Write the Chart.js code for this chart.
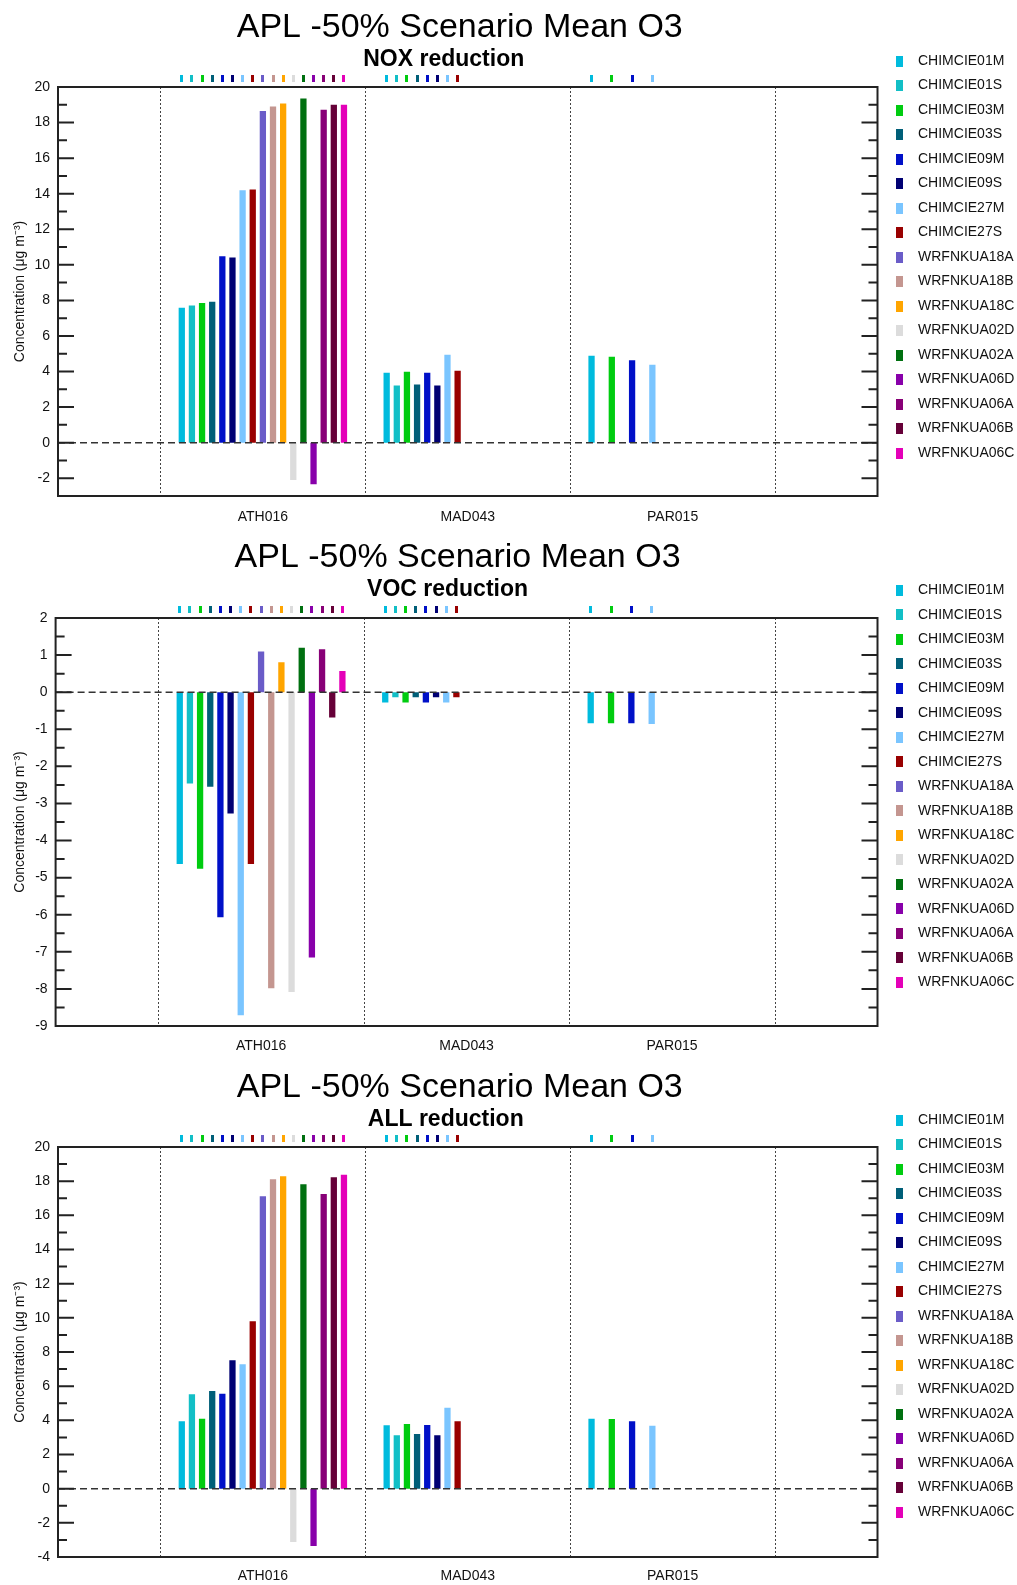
<!DOCTYPE html>
<html>
<head>
<meta charset="utf-8">
<title>APL -50% Scenario Mean O3</title>
<script src="https://cdn.jsdelivr.net/npm/chart.js@4.4.1/dist/chart.umd.min.js"></script>
<style>
  body { margin: 0; background: #fff; }
  canvas { position: absolute; left: 0; }
</style>
</head>
<body>
<canvas id="chNox" width="1017" height="528" style="top:0px"></canvas>
<canvas id="chVoc" width="1017" height="529" style="top:528px"></canvas>
<canvas id="chAll" width="1017" height="528" style="top:1057px"></canvas>
<script>
var models = ['CHIMCIE01M', 'CHIMCIE01S', 'CHIMCIE03M', 'CHIMCIE03S', 'CHIMCIE09M', 'CHIMCIE09S',
    'CHIMCIE27M', 'CHIMCIE27S', 'WRFNKUA18A', 'WRFNKUA18B', 'WRFNKUA18C', 'WRFNKUA02D',
    'WRFNKUA02A', 'WRFNKUA06D', 'WRFNKUA06A', 'WRFNKUA06B', 'WRFNKUA06C'];
var colors = ['#00bbdd', '#12bfc6', '#00cc10', '#005f78', '#0010c8', '#000073',
    '#7ac5ff', '#990000', '#6a5cc8', '#c49690', '#ffa500', '#dcdcdc',
    '#007010', '#8800aa', '#880077', '#660038', '#e400b8'];
var sites = ['ATH016', 'MAD043', 'PAR015'];
var mainTitle = 'APL -50% Scenario Mean O3';

// NOX reduction
var noxATH016 = [7.58, 7.71, 7.86, 7.93, 10.48, 10.41, 14.2, 14.24, 18.65, 18.9, 19.07, -2.1, 19.35, -2.34, 18.72, 19.0, 19.0];
var noxMAD043 = [3.93, 3.22, 3.99, 3.27, 3.93, 3.22, 4.94, 4.04, null, null, null, null, null, null, null, null, null];
var noxPAR015 = [4.88, null, 4.83, null, 4.64, null, 4.38, null, null, null, null, null, null, null, null, null, null];

// VOC reduction
var vocATH016 = [-4.63, -2.46, -4.76, -2.55, -6.07, -3.27, -8.71, -4.63, 1.1, -7.98, 0.81, -8.08, 1.2, -7.15, 1.16, -0.68, 0.57];
var vocMAD043 = [-0.28, -0.14, -0.28, -0.14, -0.28, -0.14, -0.28, -0.14, null, null, null, null, null, null, null, null, null];
var vocPAR015 = [-0.84, null, -0.84, null, -0.84, null, -0.86, null, null, null, null, null, null, null, null, null, null];

// ALL reduction
var allATH016 = [3.95, 5.53, 4.1, 5.72, 5.56, 7.52, 7.28, 9.8, 17.12, 18.11, 18.29, -3.12, 17.82, -3.35, 17.25, 18.23, 18.37];
var allMAD043 = [3.71, 3.13, 3.79, 3.2, 3.73, 3.13, 4.74, 3.95, null, null, null, null, null, null, null, null, null];
var allPAR015 = [4.1, null, 4.08, null, 3.95, null, 3.69, null, null, null, null, null, null, null, null, null, null];

var yMinNox = -3, yMaxNox = 20;
var yMinVoc = -9, yMaxVoc = 2;
var yMinAll = -4, yMaxAll = 20;

Chart.defaults.font.family = '"Liberation Sans", Arial, Helvetica, sans-serif';
Chart.defaults.color = '#111';

// small legend swatches (narrow rectangles like the original)
var swatches = colors.map(function (c) {
    var cv = document.createElement('canvas');
    cv.width = 7; cv.height = 11;
    var g = cv.getContext('2d');
    g.fillStyle = c;
    g.fillRect(0, 0, 7, 11);
    return cv;
});

function panelPlugin(p) {
    return {
        id: 'panelDeco',
        afterLayout: function (chart) {
            // the original centres its titles a bit left of the plot centre
            chart.boxes.forEach(function (b) {
                if (!b.options) return;
                var dx = b.options.text === mainTitle ? p.titleDx : (b.options.text === p.subtitle ? p.subDx : 0);
                b.left += dx;
                b.right += dx;
            });
        },
        beforeDatasetsDraw: function (chart) {
            var ctx = chart.ctx, a = chart.chartArea, x = chart.scales.x;
            ctx.save();
            ctx.strokeStyle = '#444';
            ctx.lineWidth = 1;
            ctx.setLineDash([2, 2]);
            for (var i = 0; i < 4; i++) {
                var px = Math.round((x.getPixelForValue(i) + x.getPixelForValue(i + 1)) / 2) + 0.5;
                ctx.beginPath();
                ctx.moveTo(px, a.top);
                ctx.lineTo(px, a.bottom);
                ctx.stroke();
            }
            ctx.restore();
        },
        afterDatasetsDraw: function (chart) {
            var ctx = chart.ctx, a = chart.chartArea, y = chart.scales.y;
            ctx.save();
            // zero line
            var y0 = y.getPixelForValue(0);
            ctx.strokeStyle = '#333';
            ctx.lineWidth = 1.5;
            ctx.setLineDash([7, 4]);
            ctx.beginPath();
            ctx.moveTo(a.left, y0);
            ctx.lineTo(a.right, y0);
            ctx.stroke();
            ctx.setLineDash([]);
            // frame
            ctx.strokeStyle = '#222';
            ctx.lineWidth = 2;
            ctx.strokeRect(a.left, a.top, a.right - a.left, a.bottom - a.top);
            // inward ticks, left and right
            y.ticks.forEach(function (t) {
                var py = y.getPixelForValue(t.value);
                if (py <= a.top + 1 || py >= a.bottom - 1) return;
                var r = t.value / p.labelStep;
                var len = Math.abs(r - Math.round(r)) < 1e-6 ? 16 : 9;
                ctx.beginPath();
                ctx.moveTo(a.left, py);
                ctx.lineTo(a.left + len, py);
                ctx.moveTo(a.right - len, py);
                ctx.lineTo(a.right, py);
                ctx.stroke();
            });
            // colour marks above the plot for every model present at a site
            chart.data.datasets.forEach(function (ds, i) {
                var meta = chart.getDatasetMeta(i);
                ds.data.forEach(function (v, j) {
                    if (v === null) return;
                    var el = meta.data[j];
                    ctx.fillStyle = ds.backgroundColor;
                    ctx.fillRect(Math.round(el.x - 1.5), a.top - 12, 3, 7);
                });
            });
            ctx.restore();
        }
    };
}

function buildPanel(p) {
    var datasets = models.map(function (name, i) {
        return {
            label: name,
            data: [null, p.values[0][i], p.values[1][i], p.values[2][i], null],
            backgroundColor: colors[i],
            borderWidth: 0,
            barPercentage: 0.62,
            categoryPercentage: 0.841
        };
    });
    var canvas = document.getElementById(p.id);
    new Chart(canvas, {
        type: 'bar',
        data: { labels: [''].concat(sites, ['']), datasets: datasets },
        plugins: [panelPlugin(p)],
        options: {
            responsive: false,
            animation: false,
            layout: { padding: 0 },
            plugins: {
                title: {
                    display: true, fullSize: false,
                    text: mainTitle,
                    color: '#000',
                    font: { size: 34, weight: 'normal', lineHeight: 1 },
                    padding: { top: p.titleTop, bottom: 0 }
                },
                subtitle: {
                    display: true, fullSize: false,
                    text: p.subtitle,
                    color: '#000',
                    font: { size: 23, weight: 'bold', lineHeight: 1 },
                    padding: { top: p.subTop, bottom: p.subBottom }
                },
                legend: {
                    position: 'right', align: 'start', maxWidth: 139.5,
                    title: { display: true, text: '', font: { size: 10 }, padding: { top: p.legendTop, bottom: 0 } },
                    labels: {
                        usePointStyle: true, pointStyleWidth: 23, boxHeight: 11,
                        padding: 10.5, color: '#111', font: { size: 14 },
                        generateLabels: function (chart) {
                            return chart.data.datasets.map(function (ds, i) {
                                return {
                                    text: ds.label, fillStyle: ds.backgroundColor, strokeStyle: ds.backgroundColor,
                                    lineWidth: 0, pointStyle: swatches[i], hidden: false, datasetIndex: i
                                };
                            });
                        }
                    },
                    onClick: null
                },
                tooltip: { enabled: false }
            },
            scales: {
                x: {
                    type: 'category', offset: false,
                    grid: { display: false, drawTicks: false },
                    border: { display: false },
                    ticks: { autoSkip: false, maxRotation: 0, padding: p.xPad, font: { size: 14 }, color: '#111' },
                    afterFit: function (s) { s.height = canvas.height - p.bottom; }
                },
                y: {
                    min: p.min, max: p.max,
                    grid: { display: false, drawTicks: false },
                    border: { display: false },
                    ticks: {
                        stepSize: p.step, autoSkip: false, padding: 8, font: { size: 14 }, color: '#111',
                        callback: function (v) {
                            var r = v / p.labelStep;
                            return Math.abs(r - Math.round(r)) < 1e-6 ? String(Math.round(v)) : '';
                        }
                    },
                    title: {
                        display: true, text: 'Concentration (μg m⁻³)', color: '#111',
                        font: { size: 14 }, padding: { top: 12, bottom: 0 }
                    },
                    afterFit: function (s) { s.width = p.left; }
                }
            }
        }
    });
}

buildPanel({ id: 'chNox', subtitle: 'NOX reduction', values: [noxATH016, noxMAD043, noxPAR015],
    min: yMinNox, max: yMaxNox, step: 1, labelStep: 2, left: 58,
    titleTop: 11, subTop: 3.5, subBottom: 15.5, titleDx: -8, subDx: -24,
    bottom: 496, xPad: 12.6, legendTop: 31.5 });
buildPanel({ id: 'chVoc', subtitle: 'VOC reduction', values: [vocATH016, vocMAD043, vocPAR015],
    min: yMinVoc, max: yMaxVoc, step: 0.5, labelStep: 1, left: 55.6,
    titleTop: 13, subTop: 3.5, subBottom: 16.5, titleDx: -9, subDx: -19,
    bottom: 498, xPad: 11.6, legendTop: 32.9 });
buildPanel({ id: 'chAll', subtitle: 'ALL reduction', values: [allATH016, allMAD043, allPAR015],
    min: yMinAll, max: yMaxAll, step: 1, labelStep: 2, left: 58,
    titleTop: 14, subTop: 3.5, subBottom: 15.5, titleDx: -8, subDx: -22,
    bottom: 500, xPad: 10.6, legendTop: 33.5 });
</script>
</body>
</html>
